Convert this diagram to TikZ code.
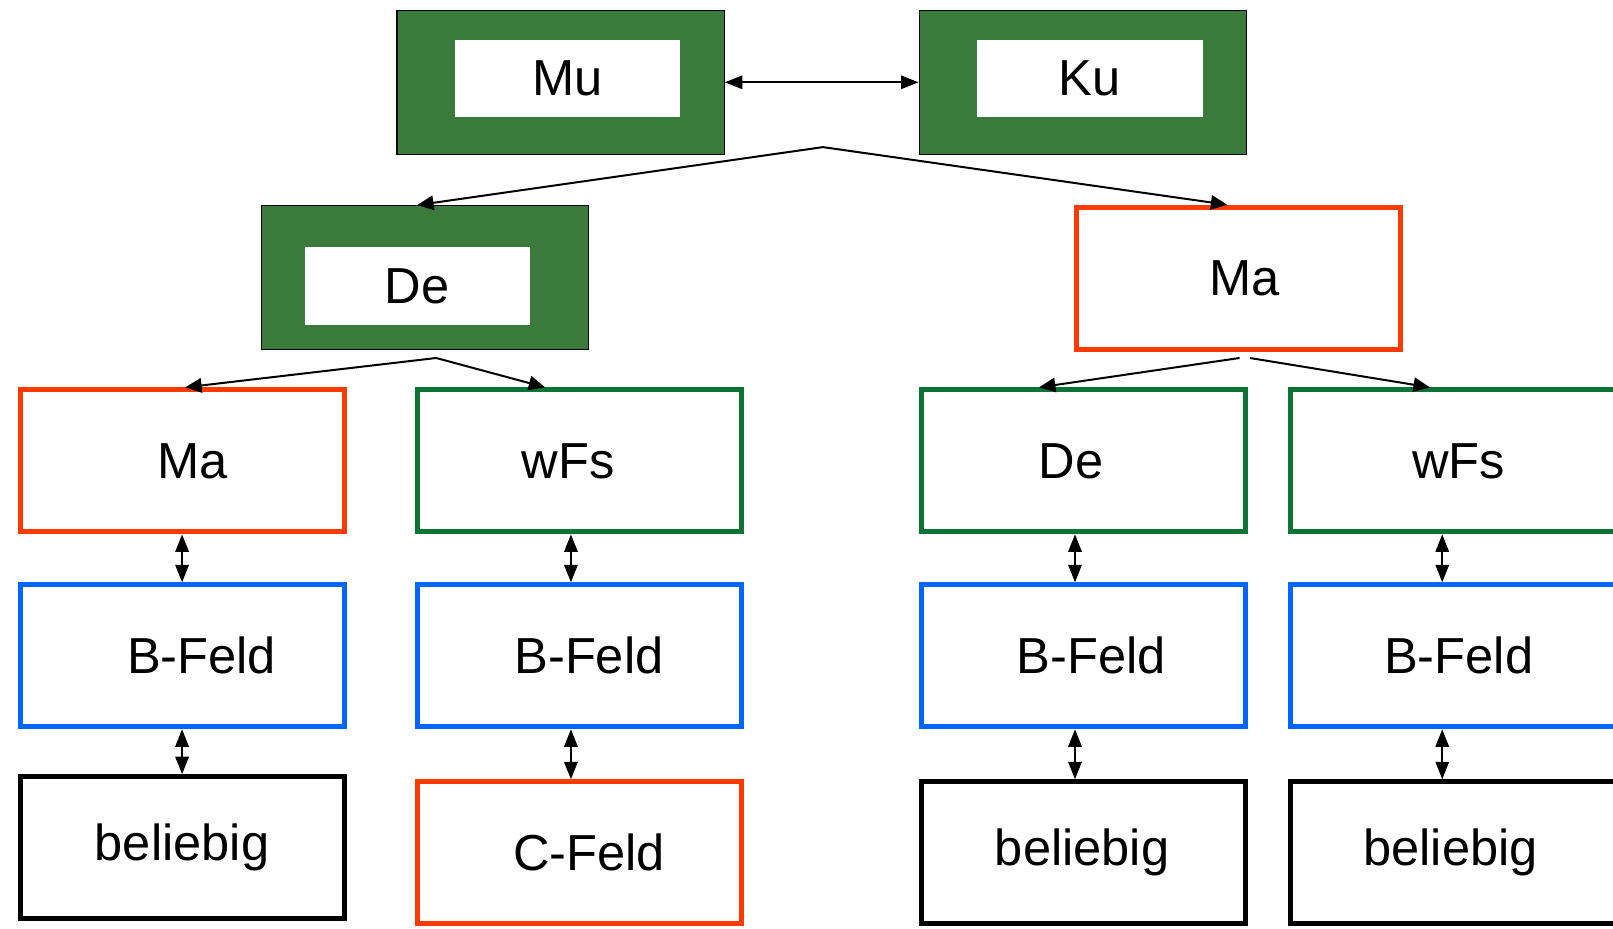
\documentclass[tikz,border=0pt]{standalone}
\usepackage{fontspec}
\setmainfont{Liberation Sans}
\usepackage{tikz}
\usetikzlibrary{positioning, arrows.meta}
\definecolor{boxgreen}{HTML}{3A7A3B}
\definecolor{greenline}{HTML}{0D7435}
\definecolor{redline}{HTML}{FF3A00}
\definecolor{blueline}{HTML}{0066FF}
\newcommand{\nudge}[2]{\makebox[0pt]{\hspace*{#1}#2}}
\tikzset{
frame/.style={shape=rectangle, draw, line width=2.8pt, fill=white, minimum width=6.3cm, minimum height=2.76cm, inner sep=0, font=\fontsize{28}{33}\selectfont}, outerbox/.style={shape=rectangle, draw=black, line width=0.7pt, fill=boxgreen, minimum width=6.36cm, minimum height=2.8cm}, innerbox/.style={shape=rectangle, fill=white, minimum width=4.38cm, minimum height=1.5cm, inner sep=0, font=\fontsize{28}{33}\selectfont}, link/.style={line width=1.1pt, -{Triangle[length=0.32cm, width=0.28cm]}}, twoway/.style={line width=1.1pt, {Triangle[length=0.34cm, width=0.26cm]}-{Triangle[length=0.34cm, width=0.26cm]}}}

\begin{document}
\begin{tikzpicture}[x=0.02cm, y=-0.02cm]
\useasboundingbox (0,0) rectangle (1568,903);
% top row
\node [outerbox] at (545, 80) (mu) {};
\node [innerbox] at (551.5, 76.5) (mu-in) {Mu};
\node [outerbox] at (1052.5, 80) (ku) {};
\node [innerbox] at (1059.5, 76.5) (ku-in) {Ku};
\draw [twoway] (mu.east) -- (ku.west);
% second row
\node [outerbox] at (413, 270) (de) {};
\node [innerbox] at (405.5, 278) (de-in) {De};
\node [frame, draw=redline] at (1204, 270.5) (ma) {\nudge{0.24cm}{Ma}};
\coordinate (split) at (800, 143);
\draw [link] (split) -- (de.north -| de-in);
\draw [link] (split) -- ([xshift=-0.22cm]ma.north);
% columns
\foreach \cx/\w/\ax/\ta/\ca/\tc/\cc/\yc/\da/\db/\dc [count=\j] in {177/6.3/177/Ma/redline/beliebig/black/824/0.4/0.76/0, 563.5/6.3/555/wFs/greenline/C-Feld/redline/829/-0.44/0.36/0.36, 1053/6.3/1045/De/greenline/beliebig/black/829/-0.48/0.32/-0.04, 1434/7.2/1402/wFs/greenline/beliebig/black/829/-0.64/-0.64/-0.96}{
      \coordinate (ax-\j) at (\ax, 0);
      \node [frame, draw=\ca, minimum width=\w cm] at (\cx, 448) (top-\j) {\nudge{\da cm}{\ta}};
      \node [frame, draw=blueline, minimum width=\w cm] at (\cx, 637.5) (mid-\j) {\nudge{\db cm}{B-Feld}};
      \node [frame, draw=\cc, minimum width=\w cm] at (\cx, \yc) (bot-\j) {\nudge{\dc cm}{\tc}};
      \draw [twoway] (top-\j.south -| ax-\j) -- (mid-\j.north -| ax-\j);
      \draw [twoway] (mid-\j.south -| ax-\j) -- (bot-\j.north -| ax-\j);
}
\coordinate (split-l) at (424, 348);
\coordinate (split-r1) at (1205, 348);
\coordinate (split-r2) at (1215, 348);
\draw [link] (split-l) -- ([xshift=0.06cm]top-1.north);
\draw [link] (split-l) -- ([xshift=-0.67cm]top-2.north);
\draw [link] (split-r1) -- ([xshift=-0.86cm]top-3.north);
\draw [link] (split-r2) -- ([xshift=-0.88cm]top-4.north);
\end{tikzpicture}
\end{document}
